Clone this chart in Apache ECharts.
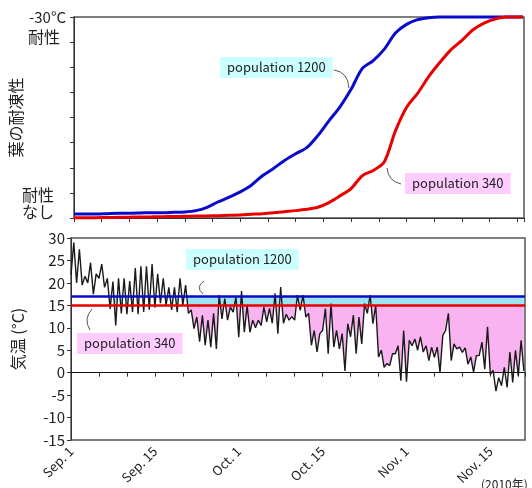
<!DOCTYPE html>
<html>
<head>
<meta charset="utf-8">
<script src="https://cdn.jsdelivr.net/npm/echarts@6/dist/echarts.min.js"></script>
<style>
html, body { margin: 0; padding: 0; background: #fff; }
#main { width: 532px; height: 488px; }
</style>
</head>
<body>
<div id="main"></div>
<script>
// x軸: Sep. 1 からの日数
var tickDays = [0, 15, 30, 45, 60, 75];
var tickLabels = ['Sep. 1', 'Sep. 15', 'Oct. 1', 'Oct. 15', 'Nov. 1', 'Nov. 15'];

// 葉の耐凍性 (0 = 耐性なし, 30 = -30°C 耐性)
var hardDays = [0, 2, 4, 6, 8, 10, 12, 14, 16, 18, 20, 22, 24, 26, 28, 30, 32, 34, 36, 38,
                40, 42, 44, 46, 48, 50, 52, 54, 56, 58, 60, 62, 64, 66, 68, 70, 72, 74, 76, 78, 80, 81];
var pop1200 = [0.6, 0.6, 0.6, 0.65, 0.7, 0.7, 0.75, 0.8, 0.8, 0.85,
               0.9, 1.1, 1.6, 2.4, 3.1, 3.9, 4.9, 6.3, 7.4, 8.6,
               9.6, 10.5, 12.3, 14.5, 16.6, 19.2, 22.3, 23.5, 25.2, 27.6,
               28.9, 29.6, 29.9, 30, 30, 30, 30, 30, 30, 30, 30, 30];
var pop340 = [0.05, 0.05, 0.05, 0.08, 0.1, 0.12, 0.15, 0.17, 0.2, 0.22,
              0.25, 0.28, 0.3, 0.35, 0.4, 0.45, 0.55, 0.65, 0.8, 0.95,
              1.1, 1.3, 1.6, 2.3, 3.3, 4.4, 6.3, 7.1, 8.4, 13,
              16.5, 18.6, 21.1, 23.2, 25.1, 26.5, 28.1, 29.1, 29.7, 30, 30, 30];

// 気温 (°C): 日ごとの最低・最高
var lowTemp = [21.8, 20, 19.5, 20, 17.5, 21, 19, 14.2, 10.5, 13.2,
               13, 13.5, 13, 13.5, 14, 14.5, 15.5, 15, 14, 13.5,
               15, 13.2, 9.8, 6.9, 6.1, 5.7, 5.3, 12, 11.7, 13.5,
               7.9, 9, 9, 10, 10.5, 11.3, 11, 8.7, 11, 11.7,
               11.7, 13.9, 12.4, 6.1, 4.6, 9.4, 4.2, 5.7, 5.3, 0.4,
               8, 4.2, 6.4, 13.2, 10.9, 3.5, 1.2, 1.6, 4.2, -1.8,
               -2, 6, 5, 4.6, 2.7, 3.4, 0.1, 9.4, 2.7, 5.3,
               4.5, 1.9, 0.1, 3.8, 0.8, -0.4, -4.1, -2.9, -3.3, -2.2,
               -0.8, 0.4];
var highTemp = [29, 27.5, 21.5, 24.5, 22, 24.2, 21, 20.3, 21, 21,
                20.4, 23.3, 23.7, 23.7, 24.2, 22, 21, 19, 19, 21,
                19.5, 14, 12.4, 12.8, 11.7, 13.2, 17.3, 16.5, 14.6, 16.9,
                18.2, 15, 11.7, 11.7, 14.6, 14.3, 17.7, 19.1, 13, 12.5,
                17.3, 17.3, 13.2, 9.4, 8.7, 14.3, 15.4, 9.4, 8.7, 10.9,
                12.8, 12.4, 15.4, 17.3, 15, 5, 2, 4.2, 6, 9.4,
                7.2, 7.5, 8, 6, 5.7, 5.7, 8.3, 13.2, 6.4, 5.7,
                5.5, 3.5, 3.8, 6.8, 10.2, 0.5, -1.1, 1.2, 4.6, 5,
                7.2];

var line1200 = 17;
var line340 = 15;

var font = '"Noto Sans CJK JP", "Noto Sans", sans-serif';

function pairs(xs, ys) {
    var out = [];
    for (var i = 0; i < xs.length; i++) out.push([xs[i], ys[i]]);
    return out;
}

var tempPts = [];
for (var d = 0; d < lowTemp.length; d++) {
    tempPts.push([d, lowTemp[d]]);
    if (d < highTemp.length) tempPts.push([d + 0.5, highTemp[d]]);
}

// lo..hi に切り詰めた線 (境界との交点を挟む)
function clampLine(pts, lo, hi) {
    var out = [];
    for (var i = 0; i < pts.length; i++) {
        var p = pts[i];
        if (i > 0) {
            var q = pts[i - 1];
            var cross = [];
            [lo, hi].forEach(function (b) {
                if ((q[1] - b) * (p[1] - b) < 0) {
                    var t = (b - q[1]) / (p[1] - q[1]);
                    cross.push([q[0] + t * (p[0] - q[0]), b]);
                }
            });
            cross.sort(function (a, b) { return a[0] - b[0]; });
            cross.forEach(function (c) { out.push(c); });
        }
        out.push([p[0], Math.min(hi, Math.max(lo, p[1]))]);
    }
    return out;
}

// 気温線と基準線の間を塗る
function fillSeries(base, level, color) {
    return {
        type: 'custom', xAxisIndex: 1, yAxisIndex: 1, silent: true,
        data: [[0, level]],
        renderItem: function (params, api) {
            var pts = base.map(function (p) { return api.coord(p); });
            pts.push(api.coord([base[base.length - 1][0], level]));
            pts.push(api.coord([base[0][0], level]));
            return { type: 'polygon', shape: { points: pts }, style: { fill: color } };
        }
    };
}

function xLabel(v) {
    var i = tickDays.indexOf(v);
    return i < 0 ? '' : tickLabels[i];
}

var axisCommon = {
    type: 'value',
    axisLine: { show: true, lineStyle: { color: '#333', width: 1 } },
    axisTick: { show: true, length: 4, lineStyle: { color: '#333' } },
    splitLine: { show: false }
};

var chart = echarts.init(document.getElementById('main'));
chart.setOption({
    animation: false,
    textStyle: { fontFamily: font },
    grid: [
        { left: 71, right: 8, top: 17, height: 201, show: true, borderColor: '#555', borderWidth: 1.5 },
        { left: 71, right: 7, top: 238, height: 202, show: true, borderColor: '#555', borderWidth: 1.5 }
    ],
    xAxis: [
        echarts.util.merge({ gridIndex: 0, min: 0, max: 81.2, interval: 5, axisLabel: { show: false } }, axisCommon, true),
        echarts.util.merge({
            gridIndex: 1, min: 0, max: 81.2, interval: 5,
            axisLabel: { formatter: xLabel, rotate: 45, fontSize: 13, color: '#222', margin: 9 }
        }, axisCommon, true)
    ],
    yAxis: [
        echarts.util.merge({
            gridIndex: 0, min: 0, max: 30, interval: 3.75, axisLabel: { show: false },
            name: '葉の耐凍性', nameLocation: 'middle', nameGap: 50, nameRotate: 90,
            nameTextStyle: { fontSize: 16, color: '#222' }
        }, axisCommon, true),
        echarts.util.merge({
            gridIndex: 1, min: -15, max: 30, interval: 5,
            axisLabel: { fontSize: 15, color: '#222', margin: 6 },
            name: '気温 (°C)', nameLocation: 'middle', nameGap: 45, nameRotate: 90,
            nameTextStyle: { fontSize: 16, color: '#222' }
        }, axisCommon, true)
    ],
    series: [
        {
            name: 'population 1200', type: 'line', xAxisIndex: 0, yAxisIndex: 0,
            data: pairs(hardDays, pop1200), smooth: 0.3, symbol: 'none', clip: false,
            lineStyle: { color: '#0a0acc', width: 3 }
        },
        {
            name: 'population 340', type: 'line', xAxisIndex: 0, yAxisIndex: 0,
            data: pairs(hardDays, pop340), smooth: 0.3, symbol: 'none', clip: false,
            lineStyle: { color: '#e80000', width: 3 }
        },
        fillSeries(clampLine(tempPts, 0, line340), line340, '#f9b3f1'),
        fillSeries(clampLine(tempPts, line340, line1200), line1200, '#9ee4f0'),
        {
            type: 'line', xAxisIndex: 1, yAxisIndex: 1, silent: true,
            data: tempPts, symbol: 'none', lineStyle: { opacity: 0 },
            markLine: {
                silent: true, symbol: ['none', 'none'], label: { show: false },
                data: [
                    { yAxis: 0, lineStyle: { color: '#111', width: 1, type: 'solid' } },
                    { yAxis: line1200, lineStyle: { color: '#0a0acc', width: 2.5, type: 'solid' } },
                    { yAxis: line340, lineStyle: { color: '#e80000', width: 2.5, type: 'solid' } }
                ]
            }
        },
        {
            name: '気温', type: 'line', xAxisIndex: 1, yAxisIndex: 1,
            data: tempPts, symbol: 'none',
            lineStyle: { color: '#1a1a1a', width: 1.4 }
        }
    ],
    graphic: [
        { type: 'text', x: 66, y: 17, style: { text: '-30°C', align: 'right', verticalAlign: 'middle', font: '15px ' + font, fill: '#222' } },
        { type: 'text', x: 44, y: 37, style: { text: '耐性', align: 'center', verticalAlign: 'middle', font: '16px ' + font, fill: '#222' } },
        { type: 'text', x: 38, y: 195, style: { text: '耐性', align: 'center', verticalAlign: 'middle', font: '16px ' + font, fill: '#222' } },
        { type: 'text', x: 38, y: 212, style: { text: 'なし', align: 'center', verticalAlign: 'middle', font: '16px ' + font, fill: '#222' } },
        { type: 'text', x: 481, y: 484, style: { text: '(2010年)', align: 'left', verticalAlign: 'middle', font: '12px ' + font, fill: '#222' } },

        { type: 'text', x: 220, y: 57, style: { text: 'population 1200', font: '13px ' + font, fill: '#222', backgroundColor: '#ccffff', padding: [4, 7, 4, 7] } },
        { type: 'bezierCurve', shape: { x1: 334, y1: 70, cpx1: 348, cpy1: 72, x2: 349, y2: 88 }, style: { stroke: '#555', lineWidth: 1, fill: null } },
        { type: 'text', x: 405, y: 173, style: { text: 'population 340', font: '13px ' + font, fill: '#222', backgroundColor: '#ffccff', padding: [4, 7, 4, 7] } },
        { type: 'bezierCurve', shape: { x1: 387, y1: 168, cpx1: 388, cpy1: 181, x2: 401, y2: 184 }, style: { stroke: '#555', lineWidth: 1, fill: null } },

        { type: 'text', x: 186, y: 249, style: { text: 'population 1200', font: '13px ' + font, fill: '#222', backgroundColor: '#ccffff', padding: [4, 7, 4, 7] } },
        { type: 'bezierCurve', shape: { x1: 204, y1: 281, cpx1: 195, cpy1: 287, x2: 203, y2: 294 }, style: { stroke: '#555', lineWidth: 1, fill: null } },
        { type: 'text', x: 77, y: 333, style: { text: 'population 340', font: '13px ' + font, fill: '#222', backgroundColor: '#ffccff', padding: [4, 7, 4, 7] } },
        { type: 'bezierCurve', shape: { x1: 92, y1: 309, cpx1: 83, cpy1: 319, x2: 90, y2: 330 }, style: { stroke: '#555', lineWidth: 1, fill: null } }
    ]
});
</script>
</body>
</html>
